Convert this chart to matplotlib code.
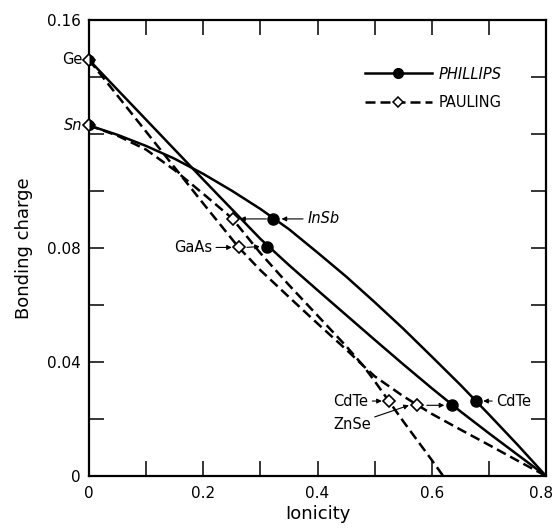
import matplotlib
matplotlib.use("Agg")
import matplotlib.pyplot as plt
from matplotlib.lines import Line2D
from matplotlib.transforms import ScaledTranslation

# curves (ionicity, bonding charge)
phil_sn_x = [0, 0.05, 0.1, 0.15, 0.2, 0.25, 0.3, 0.35, 0.4, 0.45, 0.5, 0.55, 0.6, 0.65, 0.7, 0.75, 0.8]
phil_sn_y = [0.1230, 0.1197, 0.1158, 0.1113, 0.1060, 0.1001, 0.0937, 0.0866, 0.0784, 0.0700,
             0.0610, 0.0517, 0.0419, 0.0320, 0.0216, 0.0110, 0]

phil_ge_x = [0, 0.05, 0.1, 0.15, 0.2, 0.25, 0.3, 0.35, 0.4, 0.45, 0.5, 0.55, 0.6, 0.65, 0.7, 0.75, 0.8]
phil_ge_y = [0.1460, 0.1355, 0.1250, 0.1145, 0.1040, 0.0936, 0.0832, 0.0740, 0.0652, 0.0565,
             0.0478, 0.0392, 0.0308, 0.0227, 0.0150, 0.0075, 0]

paul_ge_x = [0, 0.05, 0.1, 0.15, 0.2, 0.262, 0.3, 0.35, 0.4, 0.45, 0.48, 0.5, 0.55, 0.6, 0.65, 0.7, 0.75, 0.8]
paul_ge_y = [0.1460, 0.1334, 0.1208, 0.1082, 0.0956, 0.0802, 0.0722, 0.0628, 0.0535, 0.0444,
             0.0387, 0.0350, 0.0280, 0.0218, 0.0163, 0.0109, 0.0054, 0]

paul_sn_x = [0, 0.05, 0.1, 0.15, 0.2, 0.25, 0.3, 0.35, 0.4, 0.45, 0.48, 0.5, 0.55, 0.6, 0.62]
paul_sn_y = [0.1230, 0.1194, 0.1145, 0.1073, 0.0990, 0.0905, 0.0782, 0.0670, 0.0563, 0.0456,
             0.0387, 0.0333, 0.0192, 0.0056, 0]

# compounds on the curves
compounds = ["InSb", "GaAs", "CdTe", "ZnSe"]
phil_x = [0.322, 0.311, 0.677, 0.635]
phil_y = [0.0902, 0.0805, 0.0263, 0.0248]
paul_x = [0.2515, 0.262, 0.5246, 0.574]
paul_y = [0.0902, 0.0802, 0.0263, 0.0248]

elements = ["Ge", "Sn"]
elem_x = [0, 0]
elem_y = [0.146, 0.123]

xticks = [0, 0.1, 0.2, 0.3, 0.4, 0.5, 0.6, 0.7, 0.8]
xticklabels = ["0", "", "0.2", "", "0.4", "", "0.6", "", "0.8"]
yticks = [0, 0.02, 0.04, 0.06, 0.08, 0.10, 0.12, 0.14, 0.16]
yticklabels = ["0", "", "0.04", "", "0.08", "", "", "", "0.16"]

plt.rcParams['font.family'] = ['DejaVu Sans']

fig = plt.figure(figsize=(5.55, 5.29), dpi=100)
ax = fig.add_axes([0.1604, 0.1002, 0.8234, 0.8620])

dash = (4.0, 2.0)
lw = 1.8
ax.plot(phil_sn_x, phil_sn_y, color='black', lw=lw, solid_capstyle='butt')
ax.plot(phil_ge_x, phil_ge_y, color='black', lw=lw, solid_capstyle='butt')
ax.plot(paul_ge_x, paul_ge_y, color='black', lw=lw, dashes=dash)
ax.plot(paul_sn_x, paul_sn_y, color='black', lw=lw, dashes=dash)

ax.plot(paul_x, paul_y, ls='none', marker='D', ms=6, mfc='white', mec='black', mew=1.2, zorder=5)
ax.plot(phil_x, phil_y, ls='none', marker='o', ms=8, mfc='black', mec='black', zorder=5)

# Ge and Sn sit on the axis: open diamond with a half filled dot
ax.plot(elem_x, elem_y, ls='none', marker='D', ms=6, mfc='white', mec='black', mew=1.2,
        zorder=6, clip_on=False)
ax.plot(elem_x, elem_y, ls='none', marker='o', ms=8, fillstyle='right', mfc='black',
        mec='black', mew=0, zorder=7, clip_on=False)

ax.text(elem_x[0] - 0.012, elem_y[0], "Ge", ha='right', va='center', fontsize=10.5)
ax.text(elem_x[1] - 0.012, elem_y[1], "Sn", ha='right', va='center', fontsize=10.5, style='italic')

arr = dict(arrowstyle='-|>', color='black', lw=0.8, mutation_scale=7, shrinkA=1, shrinkB=0)
fs = 10.5

# InSb
ax.annotate("InSb", xy=(phil_x[0] + 0.015, phil_y[0]), xytext=(phil_x[0] + 0.06, phil_y[0]),
            ha='left', va='center', fontsize=fs, style='italic', arrowprops=arr)
ax.annotate("", xy=(paul_x[0] + 0.013, paul_y[0]), xytext=(phil_x[0] - 0.009, phil_y[0]),
            arrowprops=arr)
# GaAs
ax.annotate("GaAs", xy=(paul_x[1] - 0.012, paul_y[1]), xytext=(paul_x[1] - 0.047, paul_y[1]),
            ha='right', va='center', fontsize=fs, arrowprops=arr)
ax.annotate("", xy=(phil_x[1] - 0.012, phil_y[1]), xytext=(paul_x[1] + 0.012, paul_y[1]),
            arrowprops=arr)
# CdTe
ax.annotate("CdTe", xy=(paul_x[2] - 0.012, paul_y[2]), xytext=(paul_x[2] - 0.036, paul_y[2]),
            ha='right', va='center', fontsize=fs, arrowprops=arr)
ax.annotate("CdTe", xy=(phil_x[2] + 0.013, phil_y[2]), xytext=(phil_x[2] + 0.036, phil_y[2]),
            ha='left', va='center', fontsize=fs, arrowprops=arr)
# ZnSe
ax.annotate("ZnSe", xy=(paul_x[3] - 0.014, paul_y[3]), xytext=(paul_x[3] - 0.081, paul_y[3] - 0.0068),
            ha='right', va='center', fontsize=fs, arrowprops=arr)
ax.annotate("", xy=(phil_x[3] - 0.013, phil_y[3]), xytext=(paul_x[3] + 0.015, paul_y[3]),
            arrowprops=arr)

handles = [
    Line2D([], [], color='black', lw=lw, marker='o', ms=7, mfc='black'),
    Line2D([], [], color='black', lw=lw, dashes=dash, marker='D', ms=5.5, mfc='white', mew=1.1),
]
leg = ax.legend(handles, ["PHILLIPS", "PAULING"], loc='upper left', bbox_to_anchor=(0.603, 0.898),
                frameon=False, handlelength=4.6, handletextpad=0.5, labelspacing=0.9,
                borderpad=0, borderaxespad=0, fontsize=10.5, numpoints=1)
leg.get_texts()[0].set_style('italic')

ax.set_xlim(0, 0.8)
ax.set_ylim(0, 0.16)
ax.set_xticks(xticks)
ax.set_xticklabels(xticklabels)
ax.set_yticks(yticks)
ax.set_yticklabels(yticklabels)
ax.tick_params(direction='in', length=10.5, width=1.1, top=True, right=True, labelsize=11)
ax.tick_params(axis='x', pad=7)
ax.tick_params(axis='y', pad=6)
for s in ax.spines.values():
    s.set_linewidth(1.6)

# last x label sits a little left of its tick, as in the original
lab = ax.get_xticklabels()[-1]
lab.set_transform(lab.get_transform() + ScaledTranslation(-0.05, 0, fig.dpi_scale_trans))

ax.set_xlabel("Ionicity", fontsize=13, labelpad=3)
ax.set_ylabel("Bonding charge", fontsize=13, labelpad=10)

fig.savefig("out.png", dpi=100)
